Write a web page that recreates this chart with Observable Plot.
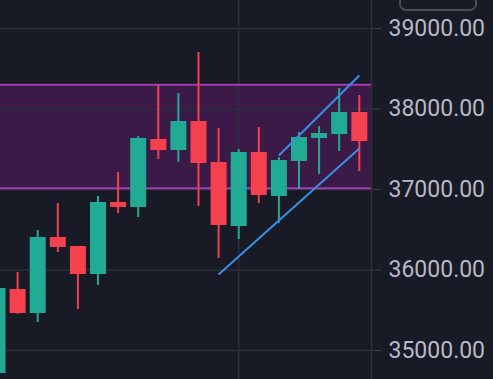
<!DOCTYPE html>
<html>
<head>
<meta charset="utf-8">
<script src="https://cdn.jsdelivr.net/npm/d3@7"></script>
<script src="https://cdn.jsdelivr.net/npm/@observablehq/plot@0.6"></script>
<style>
  html, body { margin: 0; padding: 0; background: #181a25; overflow: hidden; }
</style>
</head>
<body>
<div id="wrap"></div>
<script>
// Candle data (index, open, high, low, close)
const idx   = [0, 1, 2, 3, 4, 5, 6, 7, 8, 9, 10, 11, 12, 13, 14, 15, 16, 17, 18];
const open  = [34715, 35758, 35460, 36404, 36292, 35944, 36839, 36777, 37621, 37485, 37845, 37336, 36540, 37460, 36913, 37348, 37634, 37683, 37957];
const high  = [35790, 35969, 36491, 36826, 36292, 36913, 37211, 37658, 38292, 38193, 38702, 37758, 37497, 37770, 37398, 37708, 37783, 38255, 38168];
const low   = [34600, 35450, 35348, 36218, 35510, 35807, 36702, 36652, 37373, 37336, 36789, 36143, 36379, 36826, 36578, 37000, 37186, 37472, 37224];
const close = [35770, 35460, 36404, 36280, 35944, 36839, 36777, 37634, 37485, 37845, 37323, 36553, 37460, 36926, 37360, 37646, 37696, 37957, 37596];

// Resistance/support zone
const zoneLow = 37015, zoneHigh = 38300;
// Trend lines [x1, y1, x2, y2]
const trendX1 = [11, 14];
const trendY1 = [35944, 37423];
const trendX2 = [18, 18];
const trendY2 = [37509, 38416];

const yTicks = [35000, 36000, 37000, 38000, 39000];
const timeGrid = [12];

const candles = idx.map((d, k) => ({i: d, o: open[k], h: high[k], l: low[k], c: close[k], up: close[k] >= open[k]}));
const trends = trendX1.map((d, k) => ({x1: d, y1: trendY1[k], x2: trendX2[k], y2: trendY2[k]}));

const UP = "#21ab95", DOWN = "#f5414e";

const chart = Plot.plot({
  width: 493, height: 379,
  marginLeft: 0, marginRight: 122, marginTop: 0, marginBottom: 0,
  style: {background: "#181a25", fontFamily: "Roboto", color: "#b6b9c4"},
  x: {domain: [0.149, 18.607], axis: null},
  y: {domain: [34640, 39348], axis: null},
  marks: [
    Plot.rect([{a: zoneLow, b: zoneHigh}], {y1: "a", y2: "b", fill: "#3b1a48"}),
    Plot.gridY(yTicks, {stroke: "#2c2f3c", strokeOpacity: 1, strokeWidth: 1.5}),
    Plot.ruleX(timeGrid, {stroke: "#2c2f3c", strokeWidth: 1.5}),
    Plot.ruleY([zoneLow, zoneHigh], {stroke: "#a33db4", strokeWidth: 2}),
    Plot.ruleX(candles, {x: "i", y1: "l", y2: "h", stroke: d => d.up ? UP : DOWN, strokeWidth: 2, clip: true}),
    Plot.ruleX(candles, {x: "i", y1: "o", y2: "c", stroke: d => d.up ? UP : DOWN, strokeWidth: 16, clip: true}),
    Plot.link(trends, {x1: "x1", y1: "y1", x2: "x2", y2: "y2", stroke: "#3a8fe3", strokeWidth: 2}),
    Plot.frame({anchor: "right", stroke: "#2e313e", strokeWidth: 1.5}),
    Plot.axisY(yTicks, {anchor: "right", tickFormat: d3.format(".2f"), tickSize: 9, tickPadding: 8,
      fontSize: 23, stroke: "#3a3d4a", fill: "#b6b9c4", textStroke: "none"})
  ]
});
// price badge at the top edge of the axis (cut off in the reference)
d3.select(chart).append("rect")
  .attr("x", 400).attr("y", -12).attr("width", 76).attr("height", 22)
  .attr("rx", 6).attr("fill", "none").attr("stroke", "#474a58").attr("stroke-width", 2);
document.getElementById("wrap").append(chart);
</script>
</body>
</html>
